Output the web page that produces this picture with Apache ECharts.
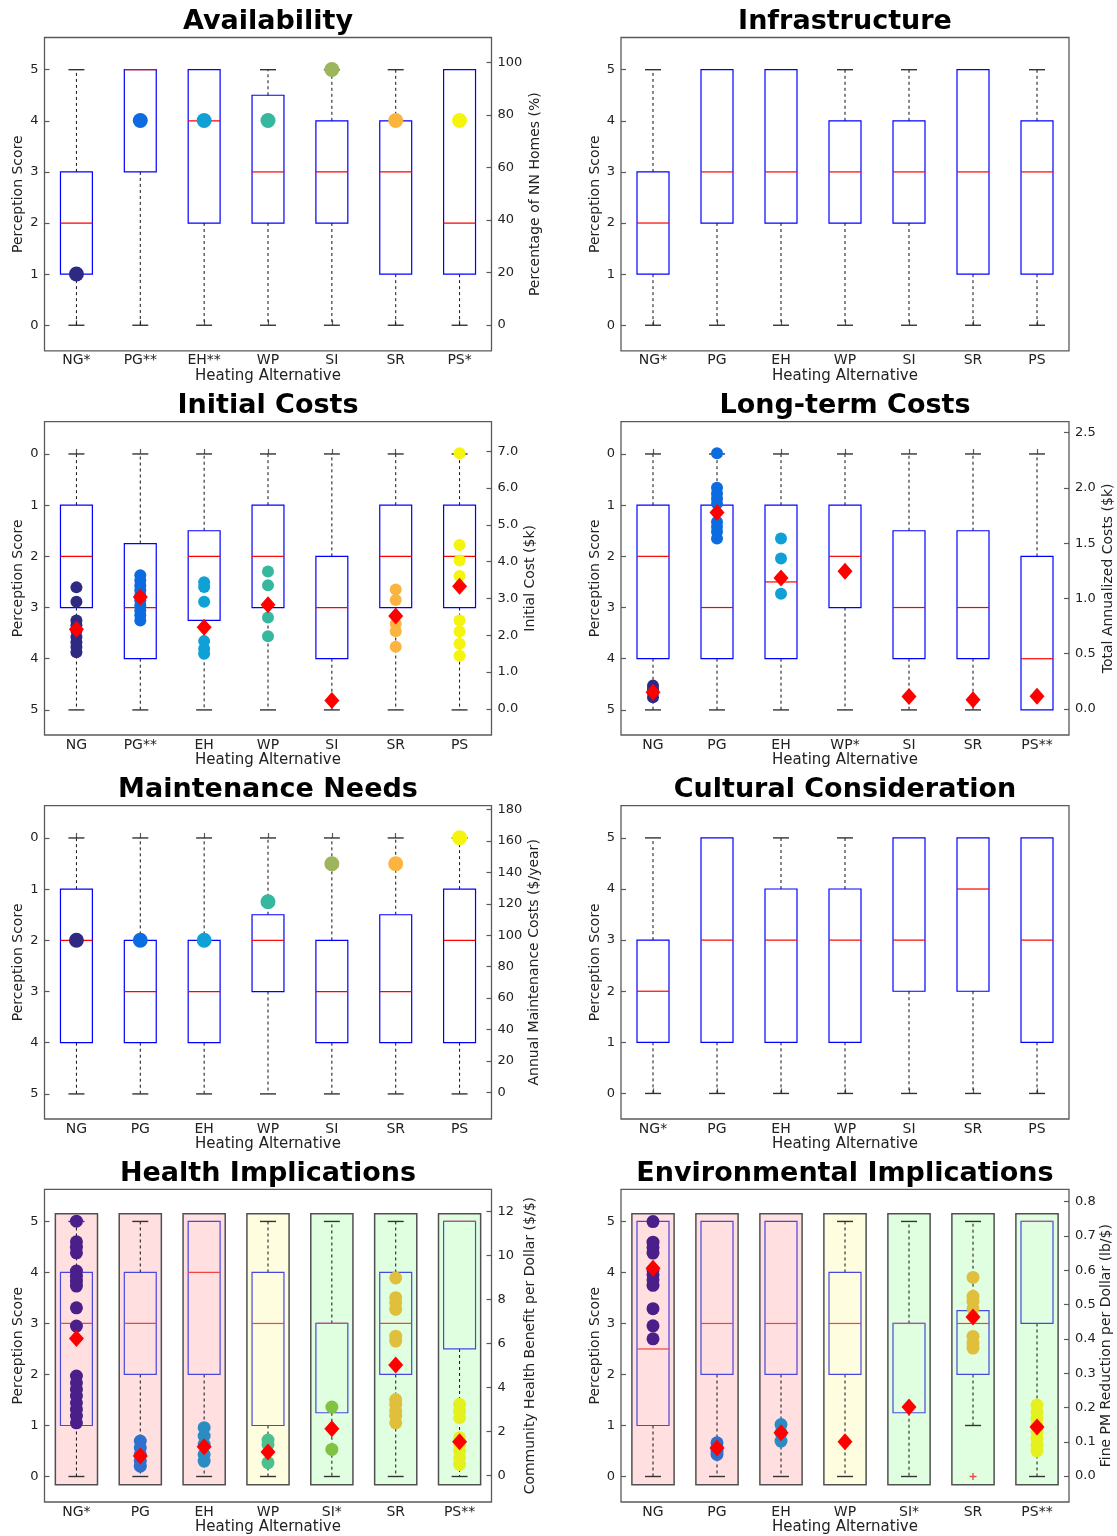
<!DOCTYPE html>
<html>
<head>
<meta charset="utf-8">
<script src="https://cdn.jsdelivr.net/npm/echarts@6/dist/echarts.min.js"></script>
<style>
  html, body { margin: 0; padding: 0; background: #fff; }
  #chart { width: 1117px; height: 1536px; }
</style>
</head>
<body>
<div id="chart"></div>
<script>
// ---------------- data ----------------
// Box summaries are [min, q1, median, q3, max] on the 0-5 perception scale.
const scoreTicks = [0, 1, 2, 3, 4, 5];

const availLabels = ['NG*', 'PG**', 'EH**', 'WP', 'SI', 'SR', 'PS*'];
const availBoxes = [[0,1,2,3,5],[0,3,5,5,5],[0,2,4,5,5],[0,2,3,4.5,5],[0,2,3,4,5],[0,1,3,4,5],[0,1,2,5,5]];
const availHomesPct = [[19.4],[77.8],[77.8],[77.8],[97.2],[77.8],[77.8]];
const availPctTicks = [0, 20, 40, 60, 80, 100];

const infraLabels = ['NG*', 'PG', 'EH', 'WP', 'SI', 'SR', 'PS'];
const infraBoxes = [[0,1,2,3,5],[0,2,3,5,5],[0,2,3,5,5],[0,2,3,4,5],[0,2,3,4,5],[0,1,3,5,5],[0,1,3,4,5]];

const initLabels = ['NG', 'PG**', 'EH', 'WP', 'SI', 'SR', 'PS'];
const initBoxes = [[0,1,2,3,5],[0,1.75,3,4,5],[0,1.5,2,3.25,5],[0,1,2,3,5],[0,2,3,4,5],[0,1,2,3,5],[0,1,2,3,5]];
const initCosts = [
  [3.30, 2.91, 2.40, 2.27, 2.13, 1.95, 1.81, 1.68, 1.54],
  [3.63, 3.49, 3.35, 3.22, 3.08, 2.95, 2.81, 2.67, 2.54, 2.40],
  [3.44, 3.31, 2.91, 1.84, 1.63, 1.50],
  [3.73, 3.36, 2.48, 1.97],
  [],
  [3.24, 2.96, 2.31, 2.11, 1.69],
  [6.94, 4.45, 4.03, 3.61, 2.40, 2.10, 1.77, 1.44]
];
const initMeanCost = [2.16, 3.04, 2.22, 2.83, 0.23, 2.52, 3.33];
const initCostTicks = [0, 1, 2, 3, 4, 5, 6, 7];

const longLabels = ['NG', 'PG', 'EH', 'WP*', 'SI', 'SR', 'PS**'];
const longBoxes = [[0,1,2,4,5],[0,1,3,4,5],[0,1,2.5,4,5],[0,1,2,3,5],[0,1.5,3,4,5],[0,1.5,3,4,5],[0,2,4,5,5]];
const longCosts = [
  [0.211, 0.180, 0.151, 0.105],
  [2.314, 2.002, 1.951, 1.905, 1.860, 1.693, 1.648, 1.603, 1.542],
  [1.542, 1.361, 1.043],
  [], [], [], []
];
const longMeanCost = [0.151, 1.778, 1.185, 1.246, 0.112, 0.084, 0.115];
const longCostTicks = [0, 0.5, 1.0, 1.5, 2.0, 2.5];

const maintLabels = ['NG', 'PG', 'EH', 'WP', 'SI', 'SR', 'PS'];
const maintBoxes = [[0,1,2,4,5],[0,2,3,4,5],[0,2,3,4,5],[0,1.5,2,3,5],[0,2,3,4,5],[0,1.5,3,4,5],[0,1,2,4,5]];
const maintCosts = [[96.8],[96.8],[96.8],[121.3],[145.5],[145.5],[162.1]];
const maintCostTicks = [0, 20, 40, 60, 80, 100, 120, 140, 160, 180];

const cultLabels = ['NG*', 'PG', 'EH', 'WP', 'SI', 'SR', 'PS'];
const cultBoxes = [[0,1,2,3,5],[0,1,3,5,5],[0,1,3,4,5],[0,1,3,4,5],[0,2,3,5,5],[0,2,4,5,5],[0,1,3,5,5]];

const healthLabels = ['NG*', 'PG', 'EH', 'WP', 'SI*', 'SR', 'PS**'];
const healthBoxes = [[0,1,3,4,5],[0,2,3,4,5],[0,2,4,5,5],[0,1,3,4,5],[0,1.25,3,3,5],[0,2,3,4,5],[0,2.5,5,5,5]];
const healthRatings = ['poor', 'poor', 'poor', 'fair', 'good', 'good', 'good'];
const healthBenefit = [
  [11.56, 10.62, 10.38, 10.12, 9.29, 9.06, 8.83, 8.61, 7.62, 6.79, 4.52, 4.21, 3.91, 3.61, 3.30, 3.00, 2.70, 2.39],
  [1.56, 1.26, 0.95, 0.65, 0.42],
  [2.17, 1.79, 1.41, 0.95, 0.65],
  [1.61, 1.41, 0.58],
  [3.11, 1.18],
  [8.98, 8.08, 7.85, 7.55, 6.33, 6.11, 3.45, 3.23, 2.92, 2.70, 2.39],
  [3.23, 2.92, 2.62, 1.71, 1.41, 1.11, 0.80, 0.50]
];
const healthMeanBenefit = [6.23, 0.88, 1.30, 1.06, 2.12, 5.02, 1.53];
const healthBenefitTicks = [0, 2, 4, 6, 8, 10, 12];

const envLabels = ['NG', 'PG', 'EH', 'WP', 'SI*', 'SR', 'PS**'];
const envBoxes = [[0,1,2.5,5,5],[0,2,3,5,5],[0,2,3,5,5],[0,2,3,4,5],[0,1.25,3,3,5],[1,2,3,3.25,5],[0,3,5,5,5]];
const envRatings = ['poor', 'poor', 'poor', 'fair', 'good', 'good', 'good'];
const envOutliers = [[5, 0]];
const envReduction = [
  [0.742, 0.682, 0.666, 0.650, 0.601, 0.587, 0.572, 0.556, 0.488, 0.438, 0.400],
  [0.097, 0.085, 0.073, 0.063],
  [0.150, 0.126, 0.102],
  [], [],
  [0.579, 0.524, 0.510, 0.488, 0.407, 0.388, 0.373],
  [0.207, 0.187, 0.168, 0.148, 0.129, 0.110, 0.090, 0.073]
];
const envMeanReduction = [0.606, 0.082, 0.126, 0.100, 0.201, 0.464, 0.143];
const envReductionTicks = [0, 0.1, 0.2, 0.3, 0.4, 0.5, 0.6, 0.7, 0.8];

// ---------------- styling ----------------
const FONT = 'DejaVu Sans';
const parula = ['#2e2a83', '#0b6be0', '#0fa0d6', '#35b89e', '#9db55c', '#fbb43f', '#f5f40d'];
const viridis = ['#4a1f8a', '#2f6fce', '#2a8cc4', '#4cc08e', '#80c242', '#dfbf3c', '#e5f11e'];
const ratingFill = { poor: '#ffdfe0', fair: '#fffde0', good: '#e0ffe0' };

const colX = [44.5, 621];
const colW = [447, 448];
const rowY = [37.5, 421.7, 805.7, 1189.3];
const gridH = 313.3;

// Tukey-style box: dashed whiskers, short caps, open blue box, red median
function boxRender(boxColor, medianColor) {
  return function (params, api) {
    const i = api.value(0);
    const mn = api.value(1), q1 = api.value(2), md = api.value(3), q3 = api.value(4), mx = api.value(5);
    const band = api.size([1, 0])[0];
    const hb = band * 0.25, hc = band * 0.125;
    const pt = v => api.coord([i, v]);
    const x = pt(md)[0];
    const kids = [];
    const dash = { stroke: '#111', lineWidth: 1, lineDash: [3, 3] };
    const cap = { stroke: '#333', lineWidth: 1.4 };
    if (mx > q3) {
      kids.push({ type: 'line', shape: { x1: x, y1: pt(q3)[1], x2: x, y2: pt(mx)[1] }, style: dash });
      kids.push({ type: 'line', shape: { x1: x - hc, y1: pt(mx)[1], x2: x + hc, y2: pt(mx)[1] }, style: cap });
    }
    if (mn < q1) {
      kids.push({ type: 'line', shape: { x1: x, y1: pt(q1)[1], x2: x, y2: pt(mn)[1] }, style: dash });
      kids.push({ type: 'line', shape: { x1: x - hc, y1: pt(mn)[1], x2: x + hc, y2: pt(mn)[1] }, style: cap });
    }
    const ya = pt(q1)[1], yb = pt(q3)[1];
    kids.push({ type: 'rect', shape: { x: x - hb, y: Math.min(ya, yb), width: 2 * hb, height: Math.abs(ya - yb) },
      style: { fill: 'none', stroke: boxColor, lineWidth: 1.2 } });
    kids.push({ type: 'line', shape: { x1: x - hb, y1: pt(md)[1], x2: x + hb, y2: pt(md)[1] },
      style: { stroke: medianColor, lineWidth: 1.2 } });
    return { type: 'group', children: kids };
  };
}

// Rating band behind each alternative
function bandRender(ratings) {
  return function (params, api) {
    const i = api.value(0);
    const band = api.size([1, 0])[0];
    const w = band * 0.66;
    const top = api.coord([i, api.value(2)]);
    const bot = api.coord([i, api.value(1)]);
    return { type: 'rect',
      shape: { x: top[0] - w / 2, y: Math.min(top[1], bot[1]), width: w, height: Math.abs(bot[1] - top[1]) },
      style: { fill: ratingFill[ratings[i]], stroke: '#505050', lineWidth: 1.5 } };
  };
}

function flatten(groups) {
  const out = [];
  groups.forEach((g, i) => g.forEach(v => out.push([i, v])));
  return out;
}

const panels = [
  { title: 'Availability', col: 0, row: 0, labels: availLabels, boxes: availBoxes, inverse: false,
    right: { name: 'Percentage of NN Homes (%)', min: -9.8, max: 109.4, ticks: availPctTicks, digits: 0, gap: 37 },
    dots: availHomesPct, dotSize: 15, palette: parula },
  { title: 'Infrastructure', col: 1, row: 0, labels: infraLabels, boxes: infraBoxes, inverse: false },
  { title: 'Initial Costs', col: 0, row: 1, labels: initLabels, boxes: initBoxes, inverse: true,
    right: { name: 'Initial Cost ($k)', min: -0.71, max: 7.8, ticks: initCostTicks, digits: 1, gap: 32 },
    dots: initCosts, means: initMeanCost, dotSize: 12, palette: parula },
  { title: 'Long-term Costs', col: 1, row: 1, labels: longLabels, boxes: longBoxes, inverse: true,
    right: { name: 'Total Annualized Costs ($k)', min: -0.236, max: 2.6, ticks: longCostTicks, digits: 1, gap: 32 },
    dots: longCosts, means: longMeanCost, dotSize: 12, palette: parula },
  { title: 'Maintenance Needs', col: 0, row: 2, labels: maintLabels, boxes: maintBoxes, inverse: true,
    right: { name: 'Annual Maintenance Costs ($/year)', min: -17, max: 182.5, ticks: maintCostTicks, digits: 0, gap: 36 },
    dots: maintCosts, dotSize: 15, palette: parula },
  { title: 'Cultural Consideration', col: 1, row: 2, labels: cultLabels, boxes: cultBoxes, inverse: false },
  { title: 'Health Implications', col: 0, row: 3, labels: healthLabels, boxes: healthBoxes, inverse: false,
    right: { name: 'Community Health Benefit per Dollar ($/$)', min: -1.21, max: 13.01, ticks: healthBenefitTicks, digits: 0, gap: 32 },
    ratings: healthRatings, dots: healthBenefit, means: healthMeanBenefit, dotSize: 13, palette: viridis,
    boxColor: '#4848dc', medianColor: '#ee4444' },
  { title: 'Environmental Implications', col: 1, row: 3, labels: envLabels, boxes: envBoxes, inverse: false,
    right: { name: 'Fine PM Reduction per Dollar (lb/$)', min: -0.0756, max: 0.836, ticks: envReductionTicks, digits: 1, gap: 30 },
    ratings: envRatings, dots: envReduction, means: envMeanReduction, outliers: envOutliers, dotSize: 13, palette: viridis,
    boxColor: '#4848dc', medianColor: '#ee4444' }
];

const option = { animation: false, backgroundColor: '#fff', title: [], grid: [], xAxis: [], yAxis: [], series: [] };
const labelStyle = { fontFamily: FONT, fontSize: 13, color: '#222' };
const nameStyle = { fontFamily: FONT, fontSize: 14, color: '#222' };

panels.forEach((p, k) => {
  const left = colX[p.col], width = colW[p.col], top = rowY[p.row];
  option.grid.push({ left: left, top: top, width: width, height: gridH, show: true,
    borderColor: '#5a5a5a', borderWidth: 1.3, backgroundColor: '#fff' });
  option.title.push({ text: p.title, left: left + width / 2, top: top - 29, textAlign: 'center', padding: 0,
    textStyle: { fontFamily: FONT, fontWeight: 'bold', fontSize: 27, color: '#000' } });
  option.xAxis.push({ type: 'category', gridIndex: k, data: p.labels, boundaryGap: true,
    axisLine: { show: false },
    axisTick: { show: true, inside: true, alignWithLabel: true, length: 5, lineStyle: { color: '#5a5a5a', width: 1.2 } },
    axisLabel: Object.assign({}, labelStyle, { margin: 3, fontSize: 14 }),
    splitLine: { show: false },
    name: 'Heating Alternative', nameLocation: 'middle', nameGap: 18,
    nameTextStyle: { fontFamily: FONT, fontSize: 15, color: '#222' } });
  const leftIdx = option.yAxis.length;
  option.yAxis.push({ type: 'value', gridIndex: k, position: 'left', inverse: p.inverse,
    min: p.inverse ? -0.63 : -0.5, max: p.inverse ? 5.49 : 5.63,
    axisLine: { show: false }, splitLine: { show: false },
    axisTick: { show: true, inside: true, length: 5, customValues: scoreTicks, lineStyle: { color: '#5a5a5a', width: 1.2 } },
    axisLabel: Object.assign({ margin: 6, customValues: scoreTicks }, labelStyle),
    name: 'Perception Score', nameLocation: 'middle', nameGap: 19, nameTextStyle: nameStyle });
  let rightIdx = leftIdx;
  if (p.right) {
    rightIdx = option.yAxis.length;
    const r = p.right;
    option.yAxis.push({ type: 'value', gridIndex: k, position: 'right', min: r.min, max: r.max,
      axisLine: { show: false }, splitLine: { show: false },
      axisTick: { show: true, inside: true, length: 5, customValues: r.ticks, lineStyle: { color: '#5a5a5a', width: 1.2 } },
      axisLabel: Object.assign({ margin: 6, customValues: r.ticks, formatter: v => Number(v).toFixed(r.digits) }, labelStyle),
      name: r.name, nameLocation: 'middle', nameGap: r.gap, nameRotate: 90, nameTextStyle: nameStyle });
  }
  if (p.ratings) {
    option.series.push({ type: 'custom', xAxisIndex: k, yAxisIndex: leftIdx, z: 1, silent: true,
      renderItem: bandRender(p.ratings),
      encode: { x: 0, y: [1, 2] },
      data: p.labels.map((_, i) => [i, -0.16, 5.15]) });
  }
  option.series.push({ type: 'custom', xAxisIndex: k, yAxisIndex: leftIdx, z: 2, silent: true,
    renderItem: boxRender(p.boxColor || '#0000ff', p.medianColor || '#ff0000'),
    encode: { x: 0, y: [1, 2, 3, 4, 5] },
    data: p.boxes.map((b, i) => [i].concat(b)) });
  if (p.dots) {
    const pal = p.palette;
    option.series.push({ type: 'scatter', xAxisIndex: k, yAxisIndex: rightIdx, z: 3, silent: true,
      symbol: 'circle', symbolSize: p.dotSize,
      itemStyle: { opacity: 1, color: prm => pal[prm.data[0]] },
      data: flatten(p.dots) });
  }
  if (p.means) {
    option.series.push({ type: 'scatter', xAxisIndex: k, yAxisIndex: rightIdx, z: 4, silent: true,
      symbol: 'diamond', symbolSize: [15, 17],
      itemStyle: { color: '#ff0000', opacity: 1 },
      data: p.means.map((v, i) => [i, v]) });
  }
  if (p.outliers) {
    option.series.push({ type: 'scatter', xAxisIndex: k, yAxisIndex: leftIdx, z: 4, silent: true,
      symbol: 'path://M4,0H6V10H4Z M0,4H10V6H0Z', symbolSize: 7,
      itemStyle: { color: '#ee2222' },
      data: p.outliers });
  }
});

const chart = echarts.init(document.getElementById('chart'), null, { renderer: 'canvas' });
chart.setOption(option);
</script>
</body>
</html>
